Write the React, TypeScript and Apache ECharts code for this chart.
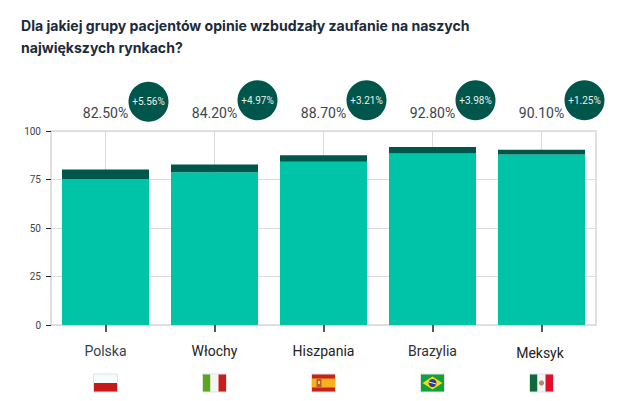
import React, { useEffect, useRef } from "react";
import * as echarts from "echarts";

const titleText = "Dla jakiej grupy pacjentów opinie wzbudzały zaufanie na naszych\nnajwiększych rynkach?";
const categories = ["Polska", "Włochy", "Hiszpania", "Brazylia", "Meksyk"];
const baseValues = [75.3, 78.7, 84.1, 88.4, 87.9];
const increaseValues = [4.8, 4.0, 3.4, 3.4, 2.4];
const scoreLabels = ["82.50%", "84.20%", "88.70%", "92.80%", "90.10%"];
const deltaLabels = ["+5.56%", "+4.97%", "+3.21%", "+3.98%", "+1.25%"];
const labelColors = ["#36424f", "#222222", "#222222", "#2b2f33", "#222222"];
const yTicks = [0, 25, 50, 75, 100];

const FONT = "Roboto";
const DARK = "#00564a";
const TEAL = "#00c4a7";

const rect = (x: number, y: number, w: number, h: number, fill: string) => ({
  type: "rect",
  shape: { x, y, width: w, height: h },
  style: { fill },
  silent: true,
});

function flagParts(name: string): any[] {
  const border = {
    type: "rect",
    shape: { x: 0, y: 0, width: 24, height: 18 },
    style: { fill: "none", stroke: "#dfe3e3", lineWidth: 1 },
    silent: true,
  };
  switch (name) {
    case "Polska":
      return [rect(0, 0, 24, 9, "#f6fbfb"), rect(0, 9, 24, 9, "#c91818"), border];
    case "Włochy":
      return [rect(0, 0, 8, 18, "#5da51f"), rect(8, 0, 8, 18, "#f5f5f5"), rect(16, 0, 8, 18, "#c91c1c"), border];
    case "Hiszpania":
      return [
        rect(0, 0, 24, 18, "#c8201c"),
        rect(0, 4.5, 24, 9, "#f5b21c"),
        rect(5, 5, 5, 8, "#c25a2a"),
        rect(6.5, 7, 2, 3, "#eecf7a"),
        border,
      ];
    case "Brazylia":
      return [
        rect(0, 0, 24, 18, "#10a03c"),
        { type: "polygon", shape: { points: [[12, 2.5], [22, 9], [12, 15.5], [2, 9]] }, style: { fill: "#f4d91c" }, silent: true },
        { type: "circle", shape: { cx: 12, cy: 9, r: 4 }, style: { fill: "#2a3f8f" }, silent: true },
        { type: "line", shape: { x1: 8.3, y1: 8, x2: 15.7, y2: 10 }, style: { stroke: "#ffffff", lineWidth: 0.9 }, silent: true },
        border,
      ];
    default:
      return [
        rect(0, 0, 8, 18, "#0c6a3c"),
        rect(8, 0, 8, 18, "#f5f5f5"),
        rect(16, 0, 8, 18, "#e0102c"),
        { type: "circle", shape: { cx: 12, cy: 9, r: 2.6 }, style: { fill: "#a9906a" }, silent: true },
        border,
      ];
  }
}

export default function App() {
  const ref = useRef<HTMLDivElement>(null);
  useEffect(() => {
    document.body.style.margin = "0";
    const chart = echarts.init(ref.current!, null, { renderer: "svg" });
    chart.setOption({
      animation: false,
      title: {
        text: titleText,
        left: 21,
        top: 14,
        padding: 0,
        textStyle: { fontFamily: "Inter", fontWeight: 700, fontSize: 14.05, lineHeight: 22, color: "#1c2b3a" },
      },
      grid: { left: 51, right: 28, top: 131, bottom: 76, show: true, borderColor: "#d6d6d6", borderWidth: 1.5, backgroundColor: "transparent" },
      xAxis: [
        {
          type: "category",
          data: categories.map((value, i) => ({
            value,
            textStyle: { color: labelColors[i], padding: value === "Meksyk" ? [1.5, 3, 0, 0] : 0 },
          })),
          position: "bottom",
          axisLine: { show: false },
          axisTick: { show: true, alignWithLabel: true, length: 7, lineStyle: { color: "#222", width: 1.5 } },
          axisLabel: { fontFamily: FONT, fontSize: 14, margin: 19 },
          splitLine: { show: true, alignWithLabel: true, lineStyle: { color: "#d9d9d9", width: 1 } },
        },
        {
          type: "category",
          data: scoreLabels,
          position: "top",
          axisLine: { show: false },
          axisTick: { show: false },
          axisLabel: { fontFamily: FONT, fontSize: 14, color: "#3c4450", margin: 11 },
        },
      ],
      yAxis: {
        type: "value",
        min: 0,
        max: 100,
        interval: 25,
        axisLine: { show: false },
        axisTick: { show: true, length: 5, lineStyle: { color: "#222", width: 1 } },
        axisLabel: { fontFamily: FONT, fontSize: 10, color: "#444", margin: 10, formatter: (v: number) => (yTicks.includes(v) ? String(v) : "") },
        splitLine: { show: true, lineStyle: { color: "#dcdcdc", width: 1 } },
      },
      series: [
        { type: "bar", stack: "s", data: baseValues, barWidth: 87, itemStyle: { color: TEAL }, xAxisIndex: 0 },
        { type: "bar", stack: "s", data: increaseValues, barWidth: 87, itemStyle: { color: DARK }, xAxisIndex: 0 },
      ],
    });

    const graphics: any[] = [];
    categories.forEach((name, i) => {
      const cx = chart.convertToPixel({ xAxisIndex: 0 }, name) as number;
      const circleX = cx + 43;
      const circleY = i === 0 ? 101.7 : 100.3;
      graphics.push({ type: "circle", shape: { cx: circleX, cy: circleY, r: 20 }, style: { fill: DARK }, silent: true });
      graphics.push({
        type: "text",
        x: circleX,
        y: circleY,
        silent: true,
        style: { text: deltaLabels[i], fill: "#e6f2ef", font: `10px ${FONT}`, align: "center", verticalAlign: "middle" },
      });
      graphics.push({ type: "group", x: cx - 12, y: 374, silent: true, children: flagParts(name) });
    });
    chart.setOption({ graphic: graphics });
    return () => chart.dispose();
  }, []);
  return <div ref={ref} style={{ position: "absolute", left: 0, top: 0, width: 624, height: 401 }} />;
}
